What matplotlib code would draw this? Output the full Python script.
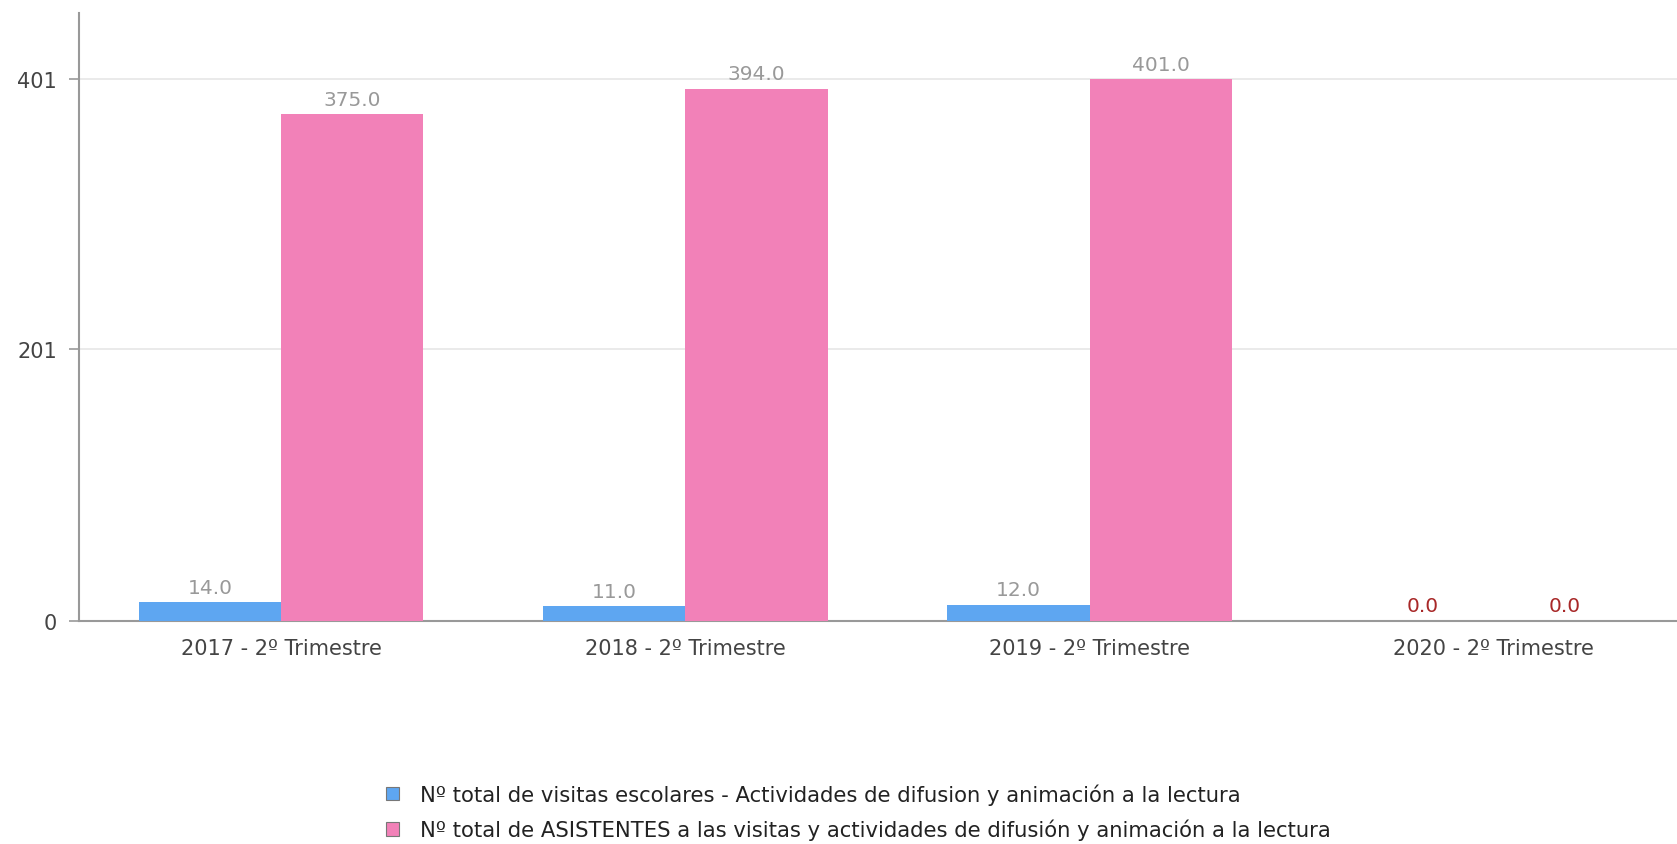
import matplotlib
matplotlib.use("Agg")
import matplotlib.pyplot as plt
from matplotlib.patches import Patch
import numpy as np

categories = ["2017 - 2º Trimestre", "2018 - 2º Trimestre",
              "2019 - 2º Trimestre", "2020 - 2º Trimestre"]
visitas = [14.0, 11.0, 12.0, 0.0]
asistentes = [375.0, 394.0, 401.0, 0.0]
series_names = [
    "Nº total de visitas escolares - Actividades de difusion y animación a la lectura",
    "Nº total de ASISTENTES a las visitas y actividades de difusión y animación a la lectura",
]
yticks = [0, 201, 401]

blue = "#5ea6f1"
pink = "#f281b8"
grey_txt = "#999999"
zero_txt = "#a82828"

fig = plt.figure(figsize=(16.77, 8.45), dpi=100)
ax = fig.add_axes([79 / 1677, 1 - 622 / 845, 1 - 79 / 1677, (622 - 14) / 845])

x = np.arange(len(categories))
w = 0.352
b1 = ax.bar(x - w / 2, visitas, w, color=blue, zorder=3)
b2 = ax.bar(x + w / 2, asistentes, w, color=pink, zorder=3)

# value labels above each bar, zeros in red
for bars, vals in ((b1, visitas), (b2, asistentes)):
    for rect, v in zip(bars, vals):
        ax.annotate(f"{v:.1f}", (rect.get_x() + rect.get_width() / 2, v),
                    xytext=(0, 4), textcoords="offset points",
                    ha="center", va="bottom", fontsize=14.5,
                    color=zero_txt if v == 0 else grey_txt)

ax.set_xlim(-0.5, 3.453)
ax.set_ylim(0, 450)
ax.set_xticks(x)
ax.set_xticklabels(categories)
ax.set_yticks(yticks)
ax.tick_params(axis="x", length=0, pad=12, labelsize=15, labelcolor="#444444")
ax.tick_params(axis="y", length=7, width=1.2, color="#999999", pad=9,
               labelsize=15, labelcolor="#444444")
ax.grid(axis="y", color="#e6e6e6", linewidth=1.2, zorder=0)
ax.set_axisbelow(True)
for s in ("top", "right"):
    ax.spines[s].set_visible(False)
for s in ("left", "bottom"):
    ax.spines[s].set_color("#999999")
    ax.spines[s].set_linewidth(1.5)

handles = [Patch(facecolor=blue, edgecolor="#777777", linewidth=0.8),
           Patch(facecolor=pink, edgecolor="#777777", linewidth=0.8)]
fig.legend(handles, series_names, loc="center left",
           bbox_to_anchor=(367 / 1677, 1 - 813 / 845), frameon=False,
           fontsize=15.2, handlelength=0.62, handleheight=0.62,
           handletextpad=1.0, labelspacing=0.66, labelcolor="#222222")

fig.savefig("out.png", dpi=100)
